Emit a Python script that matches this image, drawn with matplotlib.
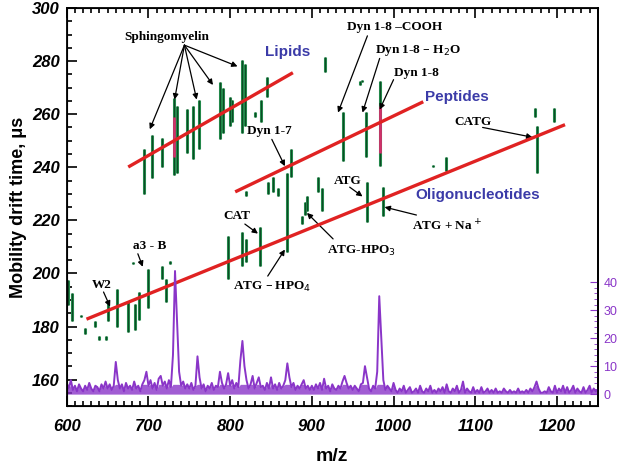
import numpy as np
import matplotlib
matplotlib.use('Agg')
import matplotlib.pyplot as plt
from matplotlib.ticker import MultipleLocator, FixedLocator

plt.rcParams['font.family'] = ['Liberation Sans', 'DejaVu Sans']

# drift-time streaks: m/z, low and high drift time (us)
streak_mz = [694, 704, 716, 731, 734.5, 747, 754, 761.5, 787, 791, 799.5, 802,
             815, 818, 830, 837.5, 845, 916, 958.5,
             846, 852, 858, 819, 870, 875, 907, 913, 894, 891, 888,
             938, 966, 983, 961, 1064, 1048,
             967, 987, 1175, 1173, 1197,
             601, 606, 607, 618, 622, 634, 640, 648, 651, 661, 675, 684, 689,
             699, 681, 717, 722, 726, 797, 814, 819, 836]
streak_lo = [230, 236, 240, 237, 238, 245.5, 243, 247, 250.5, 253, 255.5, 257,
             253, 255.5, 259, 257, 266.5, 276, 271,
             230, 230.5, 229, 229, 208, 236.5, 230.5, 223.5, 223.5, 222, 218.5,
             242.3, 244, 240.5, 272, 238.5, 240,
             219.5, 221.5, 238, 259, 257,
             188, 184, 182, 183.4, 177, 180, 175, 175, 181.9, 180, 178.1, 178.5, 182.3,
             186.8, 203.6, 198, 189.4, 203.6, 198, 202.9, 204.4, 202.9]
streak_hi = [247, 252, 251, 266, 263, 262, 263, 265.5, 272, 270, 266.5, 265.5,
             280.5, 279, 261, 265.5, 274, 281.5, 272.5,
             234.5, 236.5, 232, 231, 238, 247, 236.5, 232, 229, 227, 221.5,
             261, 261, 272.5, 273, 244, 241,
             234.5, 232.5, 255.5, 262.5, 262.5,
             197.5, 192.5, 186, 184.5, 179.3, 182, 176.6, 176.6, 189.4, 194.2, 189.4, 188.6, 193.1,
             201.8, 204.4, 202.9, 198, 204.8, 214.1, 215.6, 213, 217.5]

# brighter cores of the two strongest features
core_mz = [731, 983]
core_lo = [244, 245.5]
core_hi = [259, 263]

# trend lines (m/z, drift time)
lipid_mz, lipid_t = [677, 875], [240.4, 275.3]
pept_mz, pept_t = [808, 1034.5], [231, 264.4]
oligo_mz, oligo_t = [626, 1208], [183, 255.8]

# mass spectrum, intensity every 2.5 m/z from 600 to 1250
spec_start, spec_step = 600, 2.5
spec = [4, 2, 5, 1.5, 3, 1, 3.5, 2, 1, 3, 1.5, 4, 2, 1, 3, 2.5, 1, 3.5, 2, 4.5,
        2, 3.5, 1.5, 3, 11.5, 5, 2, 3.5, 1, 4, 2, 3, 1.5, 4.5, 2, 3, 1, 3.5, 5, 8,
        3, 5, 2, 4, 1.5, 5.5, 6.5, 3, 4.5, 2, 5, 2.5, 14, 44, 26, 8, 3, 4.5, 2, 3.5,
        2, 4, 1.5, 3, 13.5, 6, 2, 3.5, 1, 3, 2, 4, 1.5, 3, 2.5, 8, 4, 2, 3.5, 7.5,
        3, 5, 2, 4, 2.5, 12, 19, 10, 5, 2, 3.5, 6.5, 2, 4, 6, 2.5, 3, 1.5, 4, 2,
        6, 2, 3.5, 1.5, 4, 2, 3, 5, 11, 6, 2.5, 4, 1.5, 3, 2, 3.5, 5, 2, 3, 1.5,
        3, 1.5, 3.5, 2, 4, 1.5, 5.5, 2, 3, 1, 3.5, 2, 1.5, 3, 2, 4.5, 6.5, 4, 2, 3,
        1.5, 3, 2, 1, 3.5, 4, 10, 6, 2, 1, 3, 2, 8, 35, 20, 5, 1.5, 3, 2, 1,
        4, 1.5, 0.5, 2, 1, 3, 0.5, 1.5, 2.5, 0.5, 1, 2, 0.5, 3, 1, 0.5, 2, 1, 3, 0.5,
        1.5, 0.5, 2, 1, 2.5, 0.5, 3.5, 1, 0.5, 2, 1, 3, 0.5, 1.5, 4.5, 0.5, 2, 1, 0.5, 2.5,
        0.5, 1.5, 0.5, 2.5, 0.5, 1, 2, 0.5, 1.5, 0.5, 2, 0.5, 1, 0.5, 2, 1, 0.5, 1.5, 0.5, 1,
        0.5, 2, 0.5, 1, 0.5, 1.5, 0.5, 2, 1, 2.5, 4.5, 2, 0.5, 0.5, 1, 0.5, 2.5, 1, 0.5, 3,
        0.5, 2, 1, 3, 0.5, 2.5, 0.5, 1.5, 3, 0.5, 2, 1, 0.5, 2.5, 0.5, 1.5, 3, 0.5, 2, 1,
        1.5]
spec_mz = spec_start + spec_step * np.arange(len(spec))

green = '#23884a'
red = '#e02222'
purple = '#8a35c8'
blue = '#3b3ba8'

fig = plt.figure(figsize=(6.24, 4.69), dpi=100)
ax = fig.add_axes([0.107, 0.134, 0.851, 0.849])

ax.vlines(streak_mz, streak_lo, streak_hi, color=green, lw=2.2, zorder=2)
ax.vlines(streak_mz, streak_lo, streak_hi, color='#0d4a25', lw=0.7, zorder=2)
ax.vlines(core_mz, core_lo, core_hi, color='#d0306a', lw=2.0, zorder=3)

ax.plot(lipid_mz, lipid_t, color=red, lw=2.4, zorder=4)
ax.plot(pept_mz, pept_t, color=red, lw=2.4, zorder=4)
ax.plot(oligo_mz, oligo_t, color=red, lw=2.4, zorder=4)

ax.set_xlim(600, 1250)
ax.set_ylim(150, 300)
ax.xaxis.set_major_locator(MultipleLocator(100))
ax.xaxis.set_minor_locator(MultipleLocator(10))
ax.yaxis.set_minor_locator(MultipleLocator(5))
ax.set_yticks([160, 180, 200, 220, 240, 260, 280, 300])
ax.tick_params(which='both', direction='in', top=True, right=True, width=1.2)
ax.tick_params(which='major', length=7)
ax.tick_params(axis='y', pad=5)
ax.tick_params(axis='x', pad=9)
ax.tick_params(which='minor', length=3.5)
for lab in ax.get_xticklabels() + ax.get_yticklabels():
    lab.set_fontsize(12)
    lab.set_fontweight('bold')
    lab.set_fontstyle('italic')
for s in ax.spines.values():
    s.set_linewidth(1.3)

ax.set_xlabel('m/z', fontsize=14, fontweight='bold', labelpad=10)
ax.set_ylabel('Mobility drift time, \u03bcs', fontsize=13, fontweight='bold', labelpad=4)

# spectrum on its own scale; dense noise band filled, peaks as a line
ax2 = ax.twinx()
ax2.fill_between(spec_mz, 0, np.minimum(spec, 3.5), color=purple, alpha=0.8, lw=0)
ax2.plot(spec_mz, spec, color=purple, lw=1.4)
ax2.set_ylim(-4.3, 138)
ax2.yaxis.set_major_locator(FixedLocator([0, 10, 20, 30, 40]))
ax2.yaxis.set_minor_locator(FixedLocator(np.arange(0, 41, 2)))
ax2.tick_params(which='both', direction='in', colors=purple, labelsize=9, pad=4)
ax2.tick_params(which='major', length=6)
ax2.tick_params(which='minor', length=3)
ax2.spines['right'].set_color('black')
ax2.spines['right'].set_linewidth(1.3)

# labels
serif = dict(family='Liberation Serif', fontweight='bold', fontsize=9.5, ha='center', va='center')
sans = dict(family='Liberation Sans', fontweight='bold', fontsize=11, color=blue, ha='center', va='center')
arrow = dict(arrowstyle='-|>', color='black', lw=0.9, mutation_scale=8, shrinkA=0, shrinkB=0)

ax.text(870, 283.5, 'Lipids', **sans)
ax.text(1077, 266.6, 'Peptides', **sans)
ax.text(1103, 229.5, 'Oligonucleotides', **sans)

ax.text(722, 289, 'Sphingomyelin', **serif)
for tx, ty in [(701.6, 254.3), (732, 265.5), (759, 265.5), (779, 271), (809, 278)]:
    ax.annotate('', xy=(tx, ty), xytext=(744, 286), arrowprops=arrow)

notes = [
    ('Dyn 1-7', (848, 253.5), (851, 250.5), (867, 240.4)),
    ('Dyn 1-8 \u2013COOH', (1001, 293), (968, 289.5), (932, 260.6)),
    ('Dyn 1-8 \u2013 H$_2$O', (1030, 284), (983, 281), (962, 260.6)),
    ('Dyn 1-8', (1028, 275.6), (1000, 273), (983, 261.7)),
    ('CATG', (1097, 257), (1109, 255), (1170, 251.3)),
    ('ATG', (944, 235), (946.3, 232.5), (962, 229)),
    ('ATG + Na$^+$', (1065, 218), (1028, 222), (989, 225)),
    ('ATG-HPO$_3$', (961, 208.5), (926, 213), (894, 222.8)),
    ('CAT', (808, 221.6), (818, 218.6), (834, 215)),
    ('ATG \u2013 HPO$_4$', (851, 195), (846, 199), (867, 209)),
    ('a3 - B', (702, 210.4), (687, 207.4), (693, 202.5)),
    ('W2', (643, 195.6), (645, 193), (653, 187.5)),
]
for txt, pos, start, end in notes:
    ax.text(pos[0], pos[1], txt, **serif)
    ax.annotate('', xy=end, xytext=start, arrowprops=arrow)

fig.savefig('out.png', dpi=100)
